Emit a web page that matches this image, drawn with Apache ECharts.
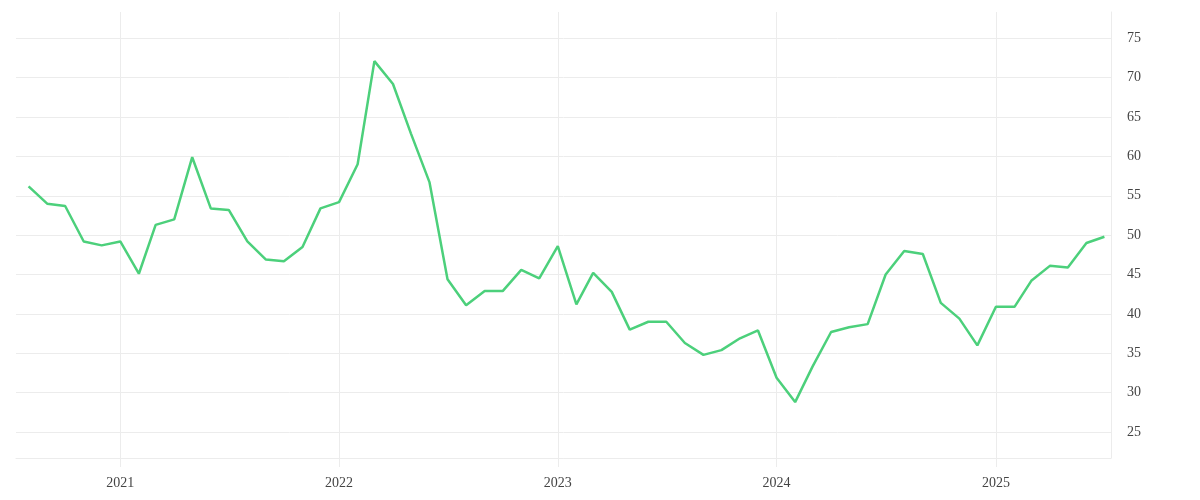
<!DOCTYPE html>
<html>
<head>
<meta charset="utf-8">
<style>
html,body{margin:0;padding:0;background:#fff;}
#chart{width:1200px;height:500px;}
</style>
<script src="https://cdn.jsdelivr.net/npm/echarts@6/dist/echarts.min.js"></script>
</head>
<body>
<div id="chart"></div>
<script>
const months = [
  '2020-08-01','2020-09-01','2020-10-01','2020-11-01','2020-12-01',
  '2021-01-01','2021-02-01','2021-03-01','2021-04-01','2021-05-01','2021-06-01',
  '2021-07-01','2021-08-01','2021-09-01','2021-10-01','2021-11-01','2021-12-01',
  '2022-01-01','2022-02-01','2022-03-01','2022-04-01','2022-05-01','2022-06-01',
  '2022-07-01','2022-08-01','2022-09-01','2022-10-01','2022-11-01','2022-12-01',
  '2023-01-01','2023-02-01','2023-03-01','2023-04-01','2023-05-01','2023-06-01',
  '2023-07-01','2023-08-01','2023-09-01','2023-10-01','2023-11-01','2023-12-01',
  '2024-01-01','2024-02-01','2024-03-01','2024-04-01','2024-05-01','2024-06-01',
  '2024-07-01','2024-08-01','2024-09-01','2024-10-01','2024-11-01','2024-12-01',
  '2025-01-01','2025-02-01','2025-03-01','2025-04-01','2025-05-01','2025-06-01',
  '2025-07-01'
];
const values = [
  56.2, 54.0, 53.7, 49.2, 48.7,
  49.2, 45.1, 51.3, 52.0, 59.9, 53.4,
  53.2, 49.2, 46.9, 46.7, 48.5, 53.4,
  54.2, 59.0, 72.1, 69.2, 62.9, 56.7,
  44.4, 41.1, 42.9, 42.9, 45.6, 44.5,
  48.6, 41.2, 45.2, 42.8, 38.0, 39.0,
  39.0, 36.3, 34.8, 35.4, 36.9, 37.9,
  31.9, 28.8, 33.3, 37.7, 38.3, 38.7,
  45.0, 48.0, 47.6, 41.4, 39.4, 36.0,
  40.9, 40.9, 44.2, 46.1, 45.9, 49.0,
  49.8
];
const yMin = 21.7;
const yMax = 78.34;
const xMin = '2020-07-11';
const xMax = '2025-07-12';

const chart = echarts.init(document.getElementById('chart'), null, {renderer: 'canvas'});
const gridColor = '#ececec';
const labelFont = 'Liberation Serif';
chart.setOption({
  animation: false,
  grid: {left: 16, right: 89, top: 12, bottom: 42, containLabel: false},
  xAxis: {
    type: 'time',
    min: xMin,
    max: xMax,
    splitNumber: 5,
    axisLine: {show: true, lineStyle: {color: gridColor, width: 1}},
    axisTick: {show: true, length: 9, lineStyle: {color: gridColor}},
    splitLine: {show: true, showMinLine: false, showMaxLine: false, lineStyle: {color: gridColor, width: 1}},
    axisLabel: {
      margin: 18,
      color: '#444',
      fontFamily: labelFont,
      fontSize: 14,
      fontWeight: 'normal',
      formatter: function (v) { return String(new Date(v).getFullYear()); }
    }
  },
  yAxis: {
    type: 'value',
    position: 'right',
    min: yMin,
    max: yMax,
    splitNumber: 11,
    axisLine: {show: true, lineStyle: {color: gridColor, width: 1}},
    axisTick: {show: false},
    splitLine: {show: true, showMinLine: true, showMaxLine: false, lineStyle: {color: gridColor, width: 1}},
    axisLabel: {
      margin: 16,
      color: '#444',
      fontFamily: labelFont,
      fontSize: 14,
      padding: [4, 0, 0, 0],
      showMinLabel: false,
      showMaxLabel: false
    }
  },
  series: [{
    type: 'line',
    data: months.map((m, i) => [m, values[i]]),
    showSymbol: false,
    symbol: 'none',
    lineStyle: {color: '#4cd07b', width: 2.5},
    itemStyle: {color: '#4cd07b'}
  }]
});
</script>
</body>
</html>
